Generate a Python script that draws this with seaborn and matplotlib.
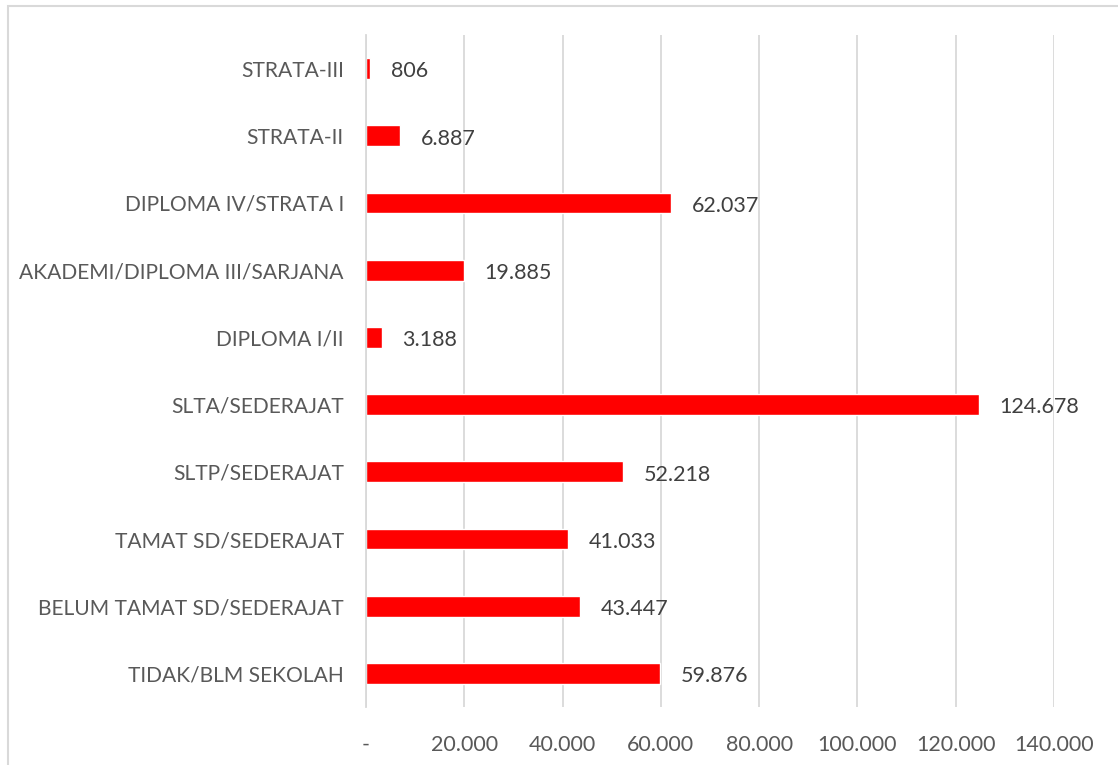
import matplotlib
matplotlib.use("Agg")
import matplotlib.pyplot as plt
import seaborn as sns
import pandas as pd
from matplotlib.patches import Rectangle

categories = ["STRATA-III", "STRATA-II", "DIPLOMA IV/STRATA I",
              "AKADEMI/DIPLOMA III/SARJANA", "DIPLOMA I/II", "SLTA/SEDERAJAT",
              "SLTP/SEDERAJAT", "TAMAT SD/SEDERAJAT", "BELUM TAMAT SD/SEDERAJAT",
              "TIDAK/BLM SEKOLAH"]
values = [806, 6887, 62037, 19885, 3188, 124678, 52218, 41033, 43447, 59876]
x_ticks = [0, 20000, 40000, 60000, 80000, 100000, 120000, 140000]
x_tick_labels = ["-", "20.000", "40.000", "60.000", "80.000", "100.000", "120.000", "140.000"]

df = pd.DataFrame({"cat": categories, "val": values})

sns.set_theme(style="white")
plt.rcParams["font.family"] = ["Lato", "DejaVu Sans"]

fig = plt.figure(figsize=(11.18, 7.65), dpi=100)
ax = fig.add_axes([366/1118, 1 - 707/765, (1054 - 366)/1118, (707 - 35)/765])

sns.barplot(data=df, x="val", y="cat", orient="h", color="#FF0000",
            saturation=1, width=0.31, ax=ax, order=categories)

ax.set_xlim(0, 140000)
ax.set_ylim(len(categories) - 0.5, -0.5)
ax.set_xticks(x_ticks)
ax.set_xticklabels(x_tick_labels)
ax.xaxis.grid(True, color="#D9D9D9", linewidth=1.3)
ax.set_axisbelow(True)
for s in ["top", "right", "bottom"]:
    ax.spines[s].set_visible(False)
ax.spines["left"].set_color("#D9D9D9")
ax.spines["left"].set_linewidth(1.3)
ax.tick_params(axis="both", length=0, colors="#595959")
ax.tick_params(axis="x", pad=20, labelsize=15.5)
ax.tick_params(axis="y", pad=16, labelsize=15.1)
ax.set_xlabel("")
ax.set_ylabel("")

for i, v in enumerate(values):
    lab = f"{v:,}".replace(",", ".")
    ax.annotate(lab, (v, i), xytext=(15, -2), textcoords="offset points",
                va="center", ha="left", fontsize=15.5, color="#404040")

fig.patches.append(Rectangle((7.5/1118, -0.1), 1.2, 1.1 - 6/765,
                             transform=fig.transFigure, fill=False,
                             edgecolor="#D9D9D9", linewidth=1.5))

fig.savefig("out.png", dpi=100, facecolor="white")
